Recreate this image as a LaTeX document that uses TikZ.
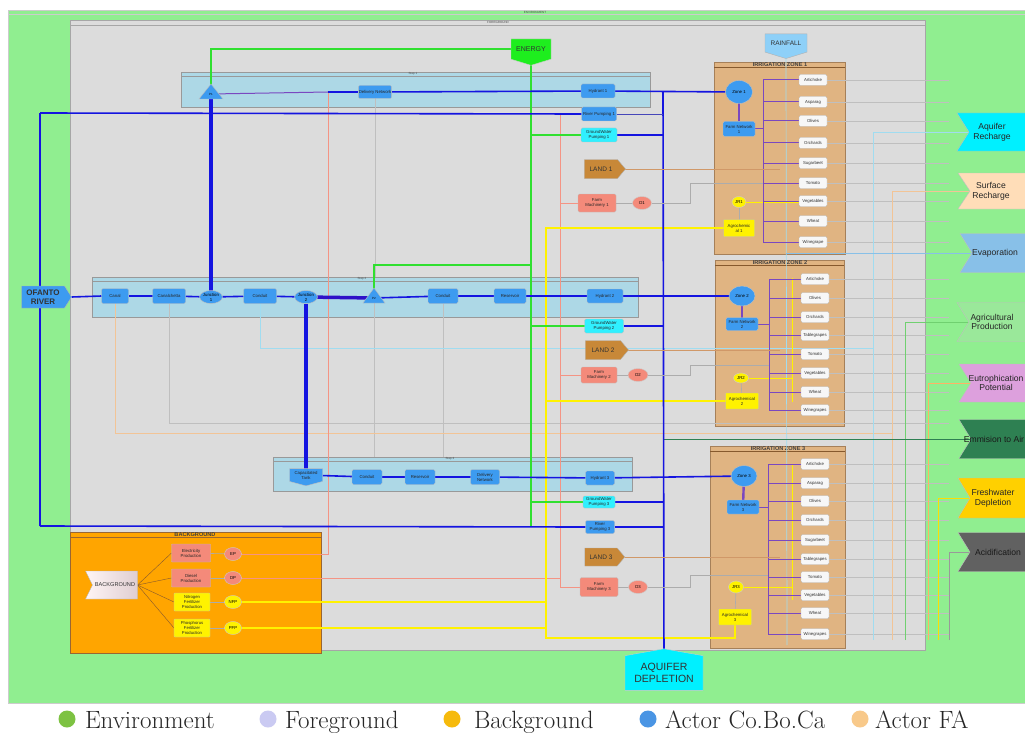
\documentclass[tikz,border=0pt]{standalone}
\usepackage{fontspec}
\newfontfamily\arialf{Liberation Sans}
\usetikzlibrary{shapes.geometric,shapes.symbols}
\pgfdeclarelayer{bg}
\pgfdeclarelayer{wires}
\pgfsetlayers{bg,wires,main}
\definecolor{envgreen}{HTML}{90EE90}
\definecolor{fggray}{HTML}{DCDCDC}
\definecolor{stepblue}{HTML}{ADD8E6}
\definecolor{nodeblue}{HTML}{3D9BF0}
\definecolor{flowblue}{HTML}{1414E0}
\definecolor{cyanbox}{HTML}{30F0FF}
\definecolor{zonetan}{HTML}{E0B482}
\definecolor{landbrown}{HTML}{C88838}
\definecolor{salmonbox}{HTML}{F48A7A}
\definecolor{energygreen}{HTML}{1EEE1E}
\definecolor{energyline}{HTML}{30E030}
\definecolor{rainblue}{HTML}{8ED0F8}
\definecolor{bgorange}{HTML}{FFA500}
\definecolor{bgpink}{HTML}{F0DCE0}
\definecolor{purpline}{HTML}{7A48C0}
\definecolor{salmonline}{HTML}{F49484}
\definecolor{cyanline}{HTML}{A0DCF0}
\definecolor{peachline}{HTML}{F2C496}
\definecolor{agline}{HTML}{70D070}
\definecolor{landline}{HTML}{D09868}
\definecolor{aqrech}{HTML}{00F0FF}
\definecolor{surfrech}{HTML}{FFDDB8}
\definecolor{evapc}{HTML}{88C0E8}
\definecolor{agprod}{HTML}{9AE89A}
\definecolor{eutro}{HTML}{DDA0DD}
\definecolor{emair}{HTML}{2E8052}
\definecolor{freshc}{HTML}{FFD000}
\definecolor{acidc}{HTML}{616161}
\definecolor{legGreen}{HTML}{7DC242}
\definecolor{legLav}{HTML}{CACAF2}
\definecolor{legGold}{HTML}{F6BA0C}
\definecolor{legBlue}{HTML}{4A95E4}
\definecolor{legPeach}{HTML}{F8C98A}
\newcommand\tinyf{\arialf\fontsize{4.3}{5}\selectfont}
\newcommand\microf{\arialf\fontsize{3}{3.5}\selectfont}
\newcommand\midf{\arialf\fontsize{6.5}{7.5}\selectfont}
\newcommand\zonef{\arialf\bfseries\fontsize{5.6}{6}\selectfont}
\newcommand\outf{\arialf\fontsize{8.6}{9.6}\selectfont}
\newcommand\legf{\fontsize{25}{28}\selectfont}
\newcommand\outpoly[4]{\fill[#1, draw=black!25] (#2,{#3-#4}) -- (1032,{#3-#4}) -- (1032,{#3+#4}) -- (#2,{#3+#4}) -- ({#2+12},#3) -- cycle;}
\begin{document}
\begin{tikzpicture}[x=1pt,y=-1pt,
  every node/.style={inner sep=0.4pt, outer sep=0pt},
  container/.style={inner sep=0pt, outer sep=0pt, line width=0.6pt, anchor=north west},
  titletxt/.style={font=\microf, text=black!70, inner sep=0pt},
  zonetitle/.style={font=\zonef, text=black!75, inner sep=0pt},
  bbox/.style={draw=black!25, fill=nodeblue, rounded corners=1.3pt, minimum height=14pt, font=\tinyf, align=center, text=black!85},
  cbox/.style={bbox, fill=cyanbox},
  sbox/.style={bbox, fill=salmonbox},
  ybox/.style={bbox, fill=yellow, rounded corners=0.6pt},
  crop/.style={draw=gray!55, fill=white!94!gray, rounded corners=1.3pt, minimum width=28pt, minimum height=11pt, font=\tinyf, text=black!80},
  ell/.style={ellipse, draw=black!25, fill=nodeblue, font=\tinyf, align=center, inner sep=0pt},
  circ/.style={ellipse, draw=black!20, font=\tinyf, inner sep=0pt, minimum width=18pt, minimum height=13pt},
  landn/.style={signal, signal to=east, signal pointer angle=100, draw=black!30, fill=landbrown, minimum height=19pt, font=\midf, text=black!80, inner sep=1pt},
  outtxt/.style={font=\outf, align=center, text=black!85, inner sep=0pt},
  flow/.style={draw=flowblue, line width=1.6pt},
  flowthick/.style={draw=flowblue, line width=4.5pt},
  eline/.style={draw=energyline, line width=1.5pt},
  yline/.style={draw=yellow, line width=1.5pt},
  sline/.style={draw=salmonline, line width=0.9pt},
  pline/.style={draw=purpline, line width=1pt},
  gline/.style={draw=gray!50, line width=0.4pt},
  dline/.style={draw=gray!65, line width=0.6pt},
  cyl/.style={draw=cyanline, line width=0.7pt},
  peachl/.style={draw=peachline, line width=0.7pt},
  landl/.style={draw=landline, line width=0.7pt},
  brl/.style={draw=brown!70!black, line width=0.4pt},
  legdot/.style={circle, minimum size=17pt, inner sep=0pt},
  legtxt/.style={font=\legf, anchor=base west, inner sep=0pt, text=black!85}
]
\useasboundingbox (0,0) rectangle (1025,733);

% ---------------- containers ----------------
\begin{pgfonlayer}{bg}
\fill[white] (0,0) rectangle (1025,733);
\node[container, fill=envgreen, draw=black!20, minimum width=1020, minimum height=693] (env) at (8,10) {};
\draw[black!20, line width=0.5] (8,14) -- (1025,14);
\node[titletxt] (envt) at (535,12) {ENVIRONMENT};
\node[container, fill=fggray, draw=black!35, minimum width=855, minimum height=630] (fg) at (70,20) {};
\draw[black!35, line width=0.5] (70,25) -- (925,25);
\node[titletxt] (fgt) at (498,22.5) {FOREGROUND};
% steps
\node[container, fill=stepblue, draw=black!40, minimum width=469, minimum height=35] (step1) at (181,72) {};
\draw[black!40, line width=0.5] (181,76) -- (650,76);
\node[titletxt] (s1t) at (413,74) {Step 1};
\node[container, fill=stepblue, draw=black!40, minimum width=546, minimum height=40] (step2) at (92,277) {};
\draw[black!40, line width=0.5] (92,281) -- (638,281);
\node[titletxt] (s2t) at (362,279) {Step 2};
\node[container, fill=stepblue, draw=black!40, minimum width=359, minimum height=34] (step3) at (273,457) {};
\draw[black!40, line width=0.5] (273,461) -- (632,461);
\node[titletxt] (s3t) at (450,459) {Step 3};
% zones
\node[container, fill=zonetan, draw=brown!60!gray, minimum width=131, minimum height=192] (zb1) at (714,62) {};
\draw[brown!70!black, line width=0.5] (714,67) -- (845,67);
\node[zonetitle] (zt1) at (780,64.8) {IRRIGATION ZONE 1};
\node[container, fill=zonetan, draw=brown!60!gray, minimum width=129, minimum height=166] (zb2) at (715,260) {};
\draw[brown!70!black, line width=0.5] (715,265) -- (844,265);
\node[zonetitle] (zt2) at (780,262.8) {IRRIGATION ZONE 2};
\node[container, fill=zonetan, draw=brown!60!gray, minimum width=135, minimum height=202] (zb3) at (710,446) {};
\draw[brown!70!black, line width=0.5] (710,451) -- (845,451);
\node[zonetitle] (zt3) at (778,448.8) {IRRIGATION ZONE 3};
% background
\node[container, fill=bgorange, draw=brown!80!black, minimum width=251, minimum height=121] (bgb) at (70,532) {};
\draw[brown!80!black, line width=0.5] (70,537) -- (321,537);
\node[zonetitle] (bgt) at (195,534.6) {BACKGROUND};
\end{pgfonlayer}

% ---------------- nodes ----------------
% top
\node[signal, signal to=south, signal pointer angle=146, fill=energygreen, draw=black!20, minimum width=40, minimum height=25, font=\arialf\fontsize{7}{8}\selectfont, text=black!80] (energy) at (531,49) {ENERGY};
\node[signal, signal to=south, signal pointer angle=146, fill=rainblue, draw=black!30, minimum width=42, minimum height=23, font=\midf, text=black!80] (rain) at (786,43) {RAINFALL};

% step 1
\fill[nodeblue, draw=black!25] (199,99) -- (223,99) -- (211,84) -- cycle;
\node[font=\microf] (p1) at (211,94) {P1};
\node[bbox, minimum width=32, minimum height=13] (dn1) at (375,92) {Delivery Network};
\node[bbox, minimum width=34] (hyd1) at (598,91) {Hydrant 1};
\node[bbox, minimum width=35] (rp1) at (599,114) {River Pumping 1};
\node[cbox, minimum width=36] (gw1) at (599,135) {GroundWater\\Pumping 1};
\node[landn, minimum width=41] (land1) at (601,169) {LAND 1};
\node[sbox, minimum width=38, minimum height=18] (fm1) at (597,203) {Farm\\Machinery 1};
\node[circ, fill=salmonbox, minimum width=19] (d1) at (642,203) {D1};

% zone 1
\node[ell, minimum width=27, minimum height=23] (zone1) at (739,92) {Zone 1};
\node[bbox, minimum width=32, minimum height=15] (fn1) at (739,129) {Farm Network\\1};
\node[circ, fill=yellow, minimum width=14, minimum height=11] (jr1) at (739,202) {JR1};
\node[ybox, minimum width=31, minimum height=17] (agro1) at (739,228) {Agrochemic\\al 1};
\foreach \n/\t/\y in {z1a/Artichoke/80, z1b/Asparag/102, z1c/Olives/121, z1d/Orchards/143, z1e/Sugarbeet/163, z1f/Tomato/183, z1g/Vegetables/201, z1h/Wheat/221, z1i/Winegrape/242}
  \node[crop] (\n) at (813,\y) {\t};

% step 2
\node[signal, signal to=east, signal pointer angle=115, fill=nodeblue, draw=black!30, minimum width=50, minimum height=22, font=\arialf\bfseries\fontsize{8}{8.6}\selectfont, align=center, text=black!80, inner sep=0.5pt] (ofanto) at (43,297) {OFANTO\\RIVER};
\node[bbox, minimum width=27, minimum height=15] (canal) at (115,296) {Canal};
\node[bbox, minimum width=33, minimum height=15] (canalch) at (169,296) {Canalchetta};
\node[ell, minimum width=20, minimum height=13] (junc1) at (211,297) {Junction\\1};
\node[bbox, minimum width=33, minimum height=15] (cond1) at (260,296) {Conduit};
\node[ell, minimum width=20, minimum height=13] (junc2) at (306,297) {Junction\\2};
\fill[nodeblue, draw=black!25] (363,303) -- (385,303) -- (374,288) -- cycle;
\node[font=\microf] (p2) at (374,298) {P2};
\node[bbox, minimum width=30, minimum height=15] (cond2) at (443,296) {Conduit};
\node[bbox, minimum width=32, minimum height=15] (res2) at (510,296) {Reservoir};
\node[bbox, minimum width=36] (hyd2) at (605,296) {Hydrant 2};
\node[cbox, minimum width=39] (gw2) at (604,326) {GroundWater\\Pumping 2};
\node[landn, minimum width=43] (land2) at (603,350) {LAND 2};
\node[sbox, minimum width=36, minimum height=16] (fm2) at (599,375) {Farm\\Machinery 2};
\node[circ, fill=salmonbox, minimum width=20] (d2) at (638,375) {D2};

% zone 2
\node[ell, minimum width=26, minimum height=20] (zone2) at (742,296) {Zone 2};
\node[bbox, minimum width=32, minimum height=13] (fn2) at (742,324) {Farm Network\\2};
\node[circ, fill=yellow, minimum width=15, minimum height=10] (jr2) at (741,378) {JR2};
\node[ybox, minimum width=33, minimum height=16] (agro2) at (742,401) {Agrochemical\\2};
\foreach \n/\t/\y in {z2a/Artichoke/279, z2b/Olives/298, z2c/Orchards/317, z2d/Tablegrapes/335, z2e/Tomato/354, z2f/Vegetables/373, z2g/Wheat/392, z2h/Winegrapes/410}
  \node[crop] (\n) at (815,\y) {\t};

% step 3
\node[signal, signal to=south, signal pointer angle=150, fill=nodeblue, draw=black!25, minimum width=33, minimum height=16, font=\tinyf, align=center, text=black!85, inner sep=0.3pt] (ctank) at (306,475) {Capacitated\\Tank};
\node[bbox, minimum width=30, minimum height=15] (cond3) at (367,477) {Conduit};
\node[bbox, minimum width=30, minimum height=15] (res3) at (420,477) {Reservoir};
\node[bbox, minimum width=29, minimum height=15] (dn3) at (485,477) {Delivery\\Network};
\node[bbox, minimum width=29] (hyd3) at (600,478) {Hydrant 3};
\node[cbox, minimum width=32, minimum height=12] (gw3) at (599,502) {GroundWater\\Pumping 3};
\node[bbox, minimum width=29, minimum height=13] (rp3) at (600,527) {River\\Pumping 3};
\node[landn, minimum width=40, minimum height=18] (land3) at (601,557) {LAND 3};
\node[sbox, minimum width=38, minimum height=19] (fm3) at (599,587) {Farm\\Machinery 3};
\node[circ, fill=salmonbox, minimum width=19] (d3) at (638,587) {D3};

% zone 3
\node[ell, minimum width=26, minimum height=21] (zone3) at (744,476) {Zone 3};
\node[bbox, minimum width=32, minimum height=14] (fn3) at (743,507) {Farm Network\\3};
\node[circ, fill=yellow, minimum width=15, minimum height=12] (jr3) at (736,587) {JR3};
\node[ybox, minimum width=33, minimum height=16] (agro3) at (735,617) {Agrochemical\\3};
\foreach \n/\t/\y in {z3a/Artichoke/464, z3b/Asparag/483, z3c/Olives/501, z3d/Orchards/520, z3e/Sugarbeet/540, z3f/Tablegrapes/559, z3g/Tomato/577, z3h/Vegetables/595, z3i/Wheat/613, z3j/Winegrapes/634}
  \node[crop] (\n) at (815,\y) {\t};

\node[signal, signal to=north, signal pointer angle=160, fill=aqrech, draw=black!20, minimum width=78, minimum height=40, font=\arialf\fontsize{10.5}{12}\selectfont, align=center, text=black!80] (aqdep) at (664,673) {AQUIFER\\DEPLETION};

% background
\node[signal, signal from=west, signal to=nowhere, signal pointer angle=127, left color=white!96!red, right color=bgpink!85!gray, draw=black!30, minimum width=52, minimum height=28, font=\arialf\fontsize{5.6}{6}\selectfont, text=black!80] (bgnode) at (115,585) {BACKGROUND};
\node[sbox, minimum width=39, minimum height=18, rounded corners=0.6pt] (elec) at (191,553) {Electricity\\Production};
\node[sbox, minimum width=39, minimum height=18, rounded corners=0.6pt] (dies) at (191,578) {Diesel\\Production};
\node[ybox, minimum width=36, minimum height=18, font=\arialf\fontsize{4.2}{4.8}\selectfont] (nitro) at (192,602) {Nitrogen\\Fertilizer\\Production};
\node[ybox, minimum width=36, minimum height=18, font=\arialf\fontsize{4.2}{4.8}\selectfont] (phos) at (192,628) {Phosphorus\\Fertilizer\\Production};
\node[circ, fill=salmonbox, minimum width=17] (ep) at (233,554) {EP};
\node[circ, fill=salmonbox, minimum width=17] (dp) at (233,578) {DP};
\node[circ, fill=yellow, minimum width=17] (nfp) at (233,602) {NFP};
\node[circ, fill=yellow, minimum width=17] (pfp) at (233,628) {PFP};

% outputs (shape cut by the right edge of the picture)
\outpoly{aqrech}{957}{132}{19}
\node[outtxt] (aqr) at (992,132) {Aquifer\\Recharge};
\outpoly{surfrech}{958}{191}{18}
\node[outtxt] (surf) at (991,191) {Surface\\Recharge};
\outpoly{evapc}{960}{253}{19.5}
\node[outtxt] (evap) at (995,253) {Evaporation};
\outpoly{agprod}{957}{322}{19.5}
\node[outtxt] (agp) at (992,322) {Agricultural\\Production};
\outpoly{eutro}{959}{383}{19}
\node[outtxt] (eut) at (996,383) {Eutrophication\\Potential};
\outpoly{emair}{959}{439}{19.5}
\node[outtxt, text=black!90] (ema) at (994,439) {Emmision to Air};
\outpoly{freshc}{958}{498}{20}
\node[outtxt] (frd) at (993,498) {Freshwater\\Depletion};
\outpoly{acidc}{958}{552}{19.5}
\node[outtxt, text=black!90] (acd) at (998,552) {Acidification};

% legend
\node[legdot, fill=legGreen] (lg1) at (67,719) {};
\node[legtxt] (lt1) at (85,728) {Environment};
\node[legdot, fill=legLav] (lg2) at (268,719) {};
\node[legtxt] (lt2) at (285,728) {Foreground};
\node[legdot, fill=legGold] (lg3) at (452,719) {};
\node[legtxt] (lt3) at (474,728) {Background};
\node[legdot, fill=legBlue] (lg4) at (648,719) {};
\node[legtxt] (lt4) at (665,728) {Actor Co.Bo.Ca};
\node[legdot, fill=legPeach] (lg5) at (860,719) {};
\node[legtxt] (lt5) at (875,728) {Actor FA};

% ---------------- coordinates ----------------
\coordinate (sjoin) at (328,92);
\coordinate (v663) at (663,92);
\coordinate (lv1) at (40,113);
\coordinate (lv3) at (40,526);
\coordinate (ev) at (531,526);
\coordinate (ep2) at (531,265);
\coordinate (yb) at (546,638);
\coordinate (sv) at (560,113);
\coordinate (pv1) at (763,80);  \coordinate (pv1b) at (763,242);
\coordinate (pv2) at (769,279); \coordinate (pv2b) at (769,410);
\coordinate (pv3) at (768,464); \coordinate (pv3b) at (768,634);
\coordinate (yz2t) at (792,278); \coordinate (yz2b) at (792,402);
\coordinate (yz3t) at (792,465); \coordinate (yz3b) at (792,600);
\coordinate (d1end) at (763,183);
\coordinate (d2end) at (769,365);
\coordinate (d3end) at (768,575);
\coordinate (l1end) at (780,169);
\coordinate (l2end) at (780,350);
\coordinate (l3end) at (780,557);
\coordinate (rainend) at (787,645);
\coordinate (xa) at (873,640);
\coordinate (xs) at (892,640);
\coordinate (xg) at (905,640);
\coordinate (xu) at (928,640);
\coordinate (xf) at (938,640);
\coordinate (xd) at (949,640);
\coordinate (xm) at (663,439);
\coordinate (pk) at (892,433);
\coordinate (gk) at (949,423);
\coordinate (bk) at (873,348);

% ---------------- wires ----------------
\begin{pgfonlayer}{wires}
% faint grid lines
\draw[gline] (dn1.south) -- (dn1.south |- step2.north);
\draw[gline] (p2.center) -- (p2.center |- step3.north);
\draw[gline] (cond2.south) -- (cond2.south |- step3.north);
\draw[peachl] (canal.south) |- (pk);
\draw[gline] (canalch.south) |- (gk);
\draw[cyl] (cond1.south) |- (bk);
\foreach \n in {z1a,z1b,z1c,z1d,z1e,z1f,z1g,z1h,z1i,z2a,z2b,z2c,z2d,z2e,z2f,z2g,z2h,z3a,z3b,z3c,z3d,z3e,z3f,z3g,z3h,z3i,z3j}
  \draw[gline] (\n.east) -- (\n.east -| xd);
\draw[cyl] (rain.south) -- (rainend);
% outputs
\draw[cyl] (xa) |- (aqr.center);
\draw[peachl] (xs) |- (surf.center);
\draw[cyl, draw=evapc] (rain.south |- evap.center) -- (evap.center);
\draw[draw=agline, line width=0.7] (xg) |- (agp.center);
\draw[peachl, draw=orange!60] (xu) |- (eut.center);
\draw[draw=emair, line width=0.9] (xm) -- (ema.center);
\draw[draw=yellow!80!orange, line width=0.7] (xf) |- (frd.center);
\draw[draw=gray!80, line width=0.7] (xd) |- (acd.center);
% salmon
\draw[sline] (sv) |- (fm3.west);
\draw[sline] (fm1.west -| sv) -- (fm1.west);
\draw[sline] (fm2.west -| sv) -- (fm2.west);
\draw[sline] (dp.east) -- (dp.east -| sv);
\draw[sline] (ep.east) -| (sjoin);
% yellow
\draw[yline] (agro1.west) -- (agro1.west -| yb) -- (yb) -| (agro3.south);
\draw[yline] (agro2.west) -- (agro2.west -| yb);
\draw[yline] (nfp.east) -- (nfp.east -| yb);
\draw[yline] (pfp.east) -- (pfp.east -| yb);
\draw[yline, line width=0.9] (jr1.east) -- (jr1.east -| z1g.west);
\draw[yline, line width=0.9] (yz2t) -- (yz2b);
\draw[yline, line width=0.9] (jr2.east) -- (jr2.east -| yz2t);
\draw[yline, line width=0.9] (yz3t) -- (yz3b);
\draw[yline, line width=0.9] (jr3.east) -- (jr3.east -| yz3t);
\draw[dline] (agro1) -- (jr1);
\draw[dline] (agro2) -- (jr2);
\draw[dline] (agro3) -- (jr3);
% green
\draw[eline] (energy.west) -| (p1.center);
\draw[eline] (energy.south) -- (ev);
\draw[eline] (gw1.west -| ev) -- (gw1.west);
\draw[eline] (gw2.west -| ev) -- (gw2.west);
\draw[eline] (gw3.west -| ev) -- (gw3.west);
\draw[eline] (ep2) -| (p2.center);
% blue flows
\draw[pline] (p1.center) -- (sjoin);
\draw[flow] (sjoin) -- (dn1);
\draw[flow] (dn1) -- (hyd1);
\draw[flow] (hyd1) -- (zone1);
\draw[flow] (v663) -- (aqdep.center);
\draw[flow] (gw1.east) -- (gw1.east -| v663);
\draw[flow] (lv1) -- (rp1.west);
\draw[draw=blue!45!gray, line width=0.9] (rp1.east) -- (rp1.east -| v663);
\draw[flow] (lv1) -- (lv3);
\draw[flow] (lv3) -- (rp3.west);
\draw[flow] (rp3.east) -- (rp3.east -| v663);
\draw[flow] (ofanto.east) -- (canal.west);
\draw[flow] (canal) -- (canalch);
\draw[flow] (canalch) -- (junc1);
\draw[flow] (junc1) -- (cond1);
\draw[flow] (cond1) -- (junc2);
\draw[flowthick, line width=3.5, draw=flowblue!85!purple] (junc2) -- (p2.center);
\draw[flow] (p2.center) -- (cond2);
\draw[flow] (cond2) -- (res2);
\draw[flow] (res2) -- (hyd2);
\draw[flow] (hyd2) -- (zone2);
\draw[flow] (gw2.east) -- (gw2.east -| v663);
\draw[flow] (ctank) -- (cond3);
\draw[flow] (cond3) -- (res3);
\draw[flow] (res3) -- (dn3);
\draw[flow] (dn3) -- (hyd3);
\draw[flow] (hyd3) -- (zone3);
\draw[flow] (gw3.east) -- (gw3.east -| v663);
\draw[flowthick] (p1.center) -- (junc1);
\draw[flowthick, line width=4] (junc2) -- (ctank);
% zones
\draw[pline, line width=2.4] (zone1) -- (fn1);
\draw[pline, line width=2.4] (zone2) -- (fn2);
\draw[pline, line width=2.4] (zone3) -- (fn3);
\draw[pline] (pv1) -- (pv1b);
\draw[pline] (fn1.east) -- (fn1.east -| pv1);
\foreach \n in {z1a,z1b,z1c,z1d,z1e,z1f,z1g,z1h,z1i}
  \draw[pline] (\n.west -| pv1) -- (\n.west);
\draw[pline] (pv2) -- (pv2b);
\draw[pline] (fn2.east) -- (fn2.east -| pv2);
\foreach \n in {z2a,z2b,z2c,z2d,z2e,z2f,z2g,z2h}
  \draw[pline] (\n.west -| pv2) -- (\n.west);
\draw[pline] (pv3) -- (pv3b);
\draw[pline] (fn3.east) -- (fn3.east -| pv3);
\foreach \n in {z3a,z3b,z3c,z3d,z3e,z3f,z3g,z3h,z3i,z3j}
  \draw[pline] (\n.west -| pv3) -- (\n.west);
% land and machinery
\draw[landl] (land1.east) -- (l1end);
\draw[landl] (land2.east) -- (l2end);
\draw[landl] (land3.east) -- (l3end);
\draw[dline] (fm1) -- (d1);
\draw[dline] (fm2) -- (d2);
\draw[dline] (fm3) -- (d3);
\draw[dline] (d1.east) -- (690,203) -- (690,183) -- (d1end);
\draw[dline] (d2.east) -- (690,375) -- (690,365) -- (d2end);
\draw[dline] (d3.east) -- (690,587) -- (690,575) -- (d3end);
% background
\foreach \t in {elec,dies,nitro,phos}
  \draw[brl] (bgnode.east) -- (\t.west);
\draw[dline] (elec) -- (ep);
\draw[dline] (dies) -- (dp);
\draw[dline] (nitro) -- (nfp);
\draw[dline] (phos) -- (pfp);
\end{pgfonlayer}
\end{tikzpicture}
\end{document}
